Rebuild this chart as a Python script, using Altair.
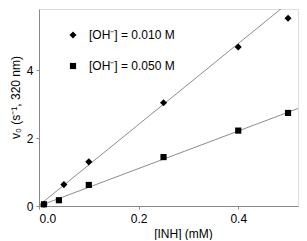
import altair as alt
import pandas as pd

# Data
inh_diamond = [0.01, 0.05, 0.10, 0.25, 0.40, 0.50]
v_diamond = [0.05, 0.63, 1.30, 3.04, 4.68, 5.53]
inh_square = [0.01, 0.04, 0.10, 0.25, 0.40, 0.50]
v_square = [0.05, 0.17, 0.62, 1.44, 2.22, 2.74]

fit_x = [0.0, 0.52]
fit_diamond = [0.02, 6.21]
fit_square = [0.0, 2.87]

legend_labels = ["[OH\u207b] = 0.010 M", "[OH\u207b] = 0.050 M"]

FONT = "Liberation Sans"

pts = pd.DataFrame({
    "x": inh_diamond + inh_square,
    "y": v_diamond + v_square,
    "s": ["d"] * len(inh_diamond) + ["q"] * len(inh_square),
})
fits = pd.DataFrame({
    "x": fit_x + fit_x,
    "y": fit_diamond + fit_square,
    "s": ["d", "d", "q", "q"],
})

xs = alt.Scale(domain=[0, 0.52], nice=False, zero=False)
ys = alt.Scale(domain=[0, 5.8], nice=False, zero=False)

xax = alt.Axis(values=[0, 0.2, 0.4], format=".1f", title="[INH] (mM)",
               grid=False, tickSize=3, labelPadding=4, labelFontSize=12,
               titleFontSize=12, titleFontWeight="normal", titlePadding=4,
               titleX=144, titleAnchor="middle")
yax = alt.Axis(values=[0, 2, 4], format="d", title="v\u2080 (s\u207b\u00b9, 320 nm)",
               grid=False, tickSize=3, labelPadding=3, labelFontSize=12,
               titleFontSize=12, titleFontWeight="normal",
               titleX=-20, titleY=88, titleAlign="center", titleBaseline="alphabetic")

lines = alt.Chart(fits).mark_line(color="#8c8c8c", strokeWidth=1, clip=True).encode(
    x=alt.X("x:Q", scale=xs, axis=xax),
    y=alt.Y("y:Q", scale=ys, axis=yax),
    detail="s:N",
)

points = alt.Chart(pts).mark_point(filled=True, color="black", opacity=1).encode(
    x=alt.X("x:Q", scale=xs),
    y=alt.Y("y:Q", scale=ys),
    shape=alt.Shape("s:N", scale=alt.Scale(domain=["d", "q"], range=["diamond", "square"]), legend=None),
    size=alt.Size("s:N", scale=alt.Scale(domain=["d", "q"], range=[50, 38]), legend=None),
)

leg_d = alt.Chart(pd.DataFrame({"t": [legend_labels[0]]})).mark_point(
    filled=True, color="black", opacity=1, shape="diamond", size=50
).encode(x=alt.value(34), y=alt.value(26))
leg_q = alt.Chart(pd.DataFrame({"t": [legend_labels[1]]})).mark_point(
    filled=True, color="black", opacity=1, shape="square", size=38
).encode(x=alt.value(34), y=alt.value(57))
leg_td = alt.Chart(pd.DataFrame({"t": [legend_labels[0]]})).mark_text(
    align="left", baseline="middle", fontSize=12, font=FONT, color="black"
).encode(x=alt.value(50), y=alt.value(26), text="t:N")
leg_tq = alt.Chart(pd.DataFrame({"t": [legend_labels[1]]})).mark_text(
    align="left", baseline="middle", fontSize=12, font=FONT, color="black"
).encode(x=alt.value(50), y=alt.value(57), text="t:N")

chart = alt.layer(lines, points, leg_d, leg_q, leg_td, leg_tq).properties(
    width=259, height=197,
    padding={"left": 31, "top": 1, "right": 1, "bottom": 34},
    autosize=alt.AutoSizeParams(type="none"),
).configure_view(stroke="black", strokeWidth=1).configure_axis(
    labelFont=FONT, titleFont=FONT, labelColor="black", titleColor="black",
    domainColor="black", tickColor="black", domain=True,
).configure(background="white")

chart.save("out.html", embed_options={"renderer": "svg", "actions": False})
